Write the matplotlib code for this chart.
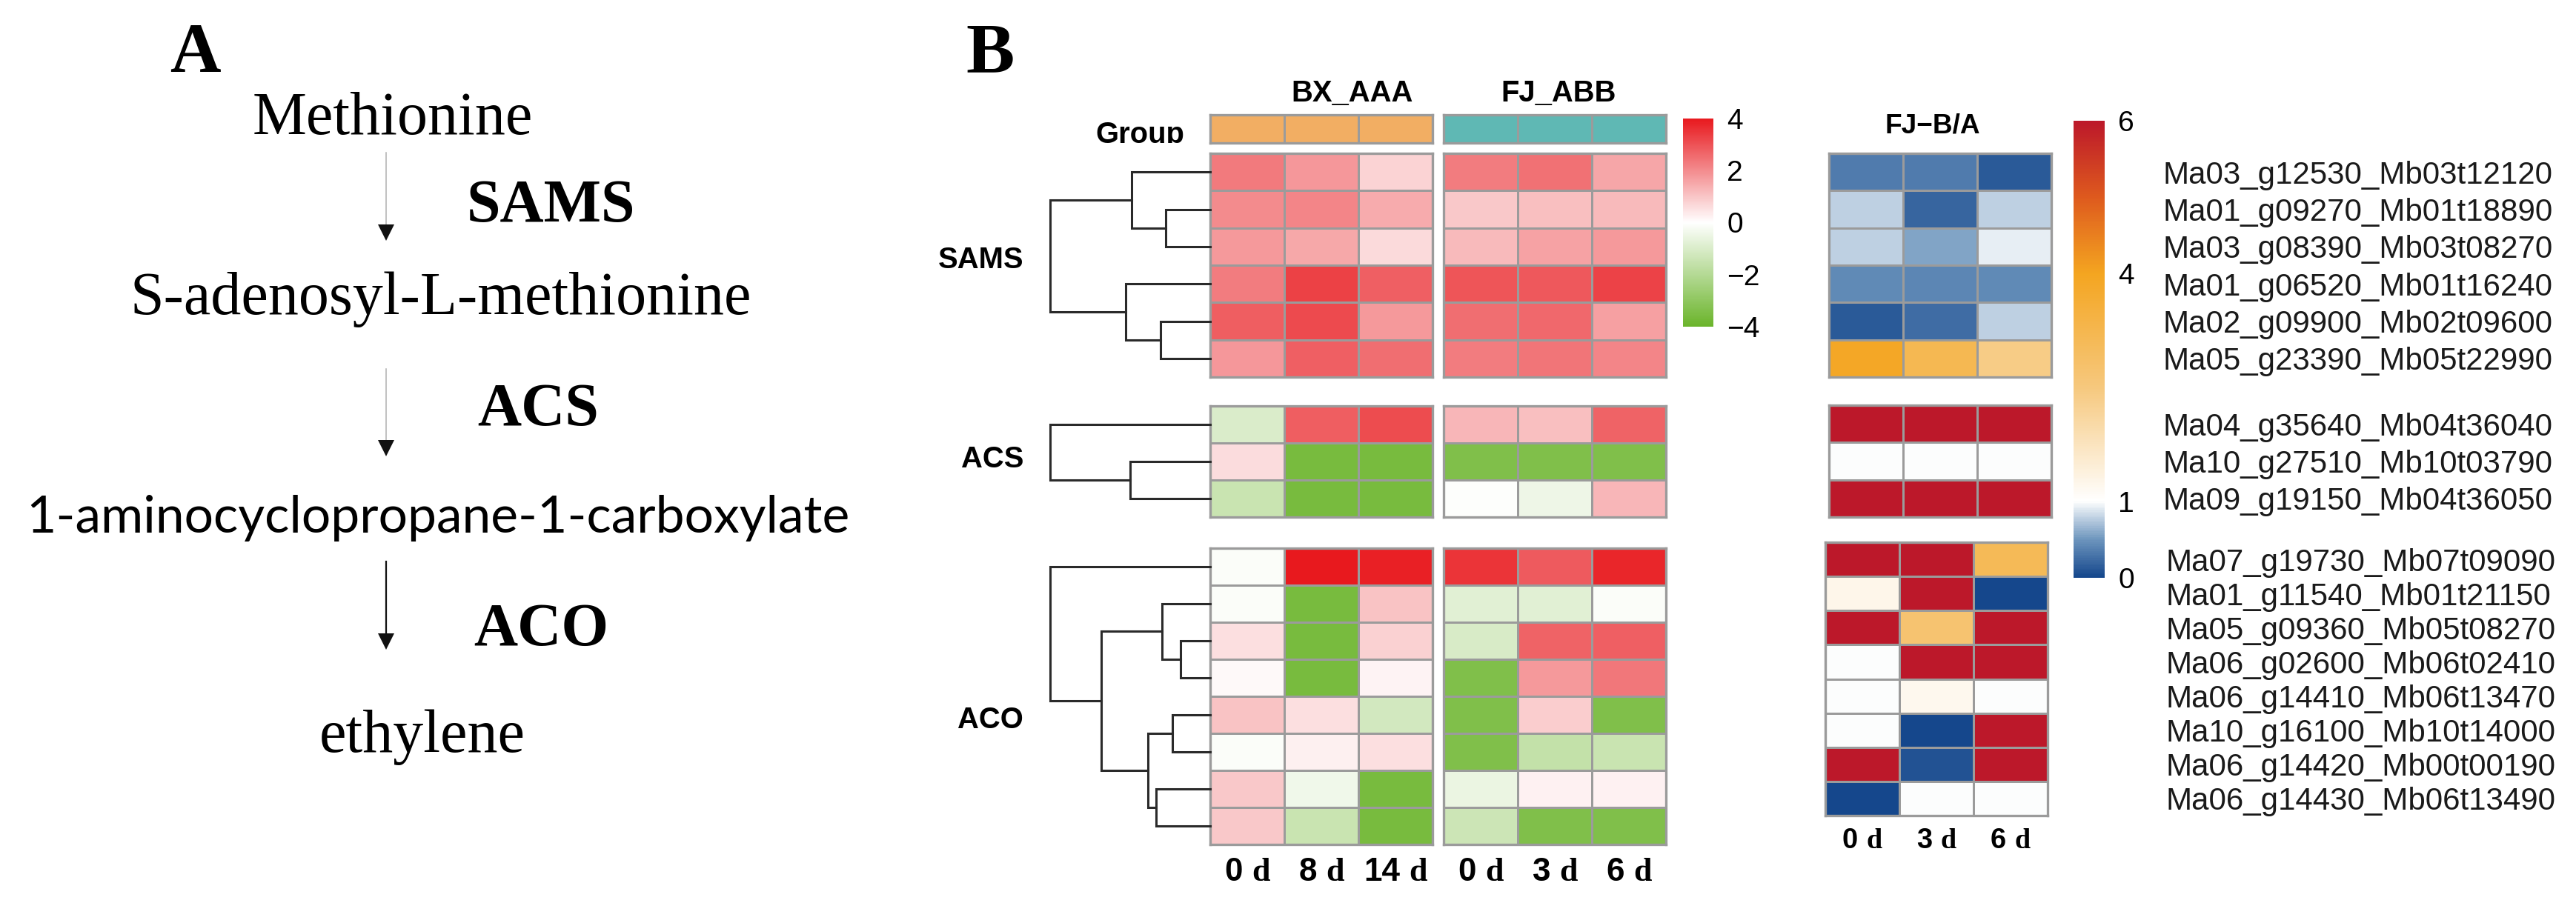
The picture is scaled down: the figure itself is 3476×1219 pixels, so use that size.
import numpy as np
import matplotlib
matplotlib.use("Agg")
import matplotlib.pyplot as plt
from matplotlib.colors import LinearSegmentedColormap, ListedColormap, Normalize
from matplotlib.cm import ScalarMappable
from matplotlib.offsetbox import TextArea, HPacker, AnnotationBbox

W, H = 3476, 1219

# ---------------- data ----------------
days_bx = ["0", "8", "14"]
days_fj = ["0", "3", "6"]
days_ratio = ["0", "3", "6"]
group_names = ["SAMS", "ACS", "ACO"]

genes_sams = ["Ma03_g12530_Mb03t12120", "Ma01_g09270_Mb01t18890", "Ma03_g08390_Mb03t08270",
              "Ma01_g06520_Mb01t16240", "Ma02_g09900_Mb02t09600", "Ma05_g23390_Mb05t22990"]
genes_acs = ["Ma04_g35640_Mb04t36040", "Ma10_g27510_Mb10t03790", "Ma09_g19150_Mb04t36050"]
genes_aco = ["Ma07_g19730_Mb07t09090", "Ma01_g11540_Mb01t21150", "Ma05_g09360_Mb05t08270",
             "Ma06_g02600_Mb06t02410", "Ma06_g14410_Mb06t13470", "Ma10_g16100_Mb10t14000",
             "Ma06_g14420_Mb00t00190", "Ma06_g14430_Mb06t13490"]

# scaled expression, columns: BX 0d, 8d, 14d | FJ 0d, 3d, 6d
expr_sams = [[2.3, 1.8, 0.75, 2.25, 2.45, 1.55],
             [2.0, 2.1, 1.45, 0.95, 1.1, 1.2],
             [1.75, 1.5, 0.65, 1.2, 1.6, 1.75],
             [2.25, 3.3, 2.75, 2.95, 2.9, 3.25],
             [2.8, 3.15, 1.75, 2.5, 2.6, 1.65],
             [1.8, 2.75, 2.5, 2.25, 2.4, 2.1]]
expr_acs = [[-1.0, 2.8, 3.1, 1.25, 1.1, 2.7],
            [0.6, -3.6, -3.6, -3.4, -3.4, -3.4],
            [-1.45, -3.6, -3.6, -0.05, -0.45, 1.25]]
expr_aco = [[-0.12, 4.0, 3.85, 3.5, 2.85, 3.75],
            [-0.1, -3.6, 1.05, -0.8, -0.8, -0.1],
            [0.55, -3.6, 0.8, -1.05, 2.7, 2.75],
            [0.1, -3.6, 0.2, -3.4, 1.75, 2.35],
            [1.05, 0.55, -1.2, -3.4, 0.85, -3.4],
            [-0.1, 0.25, 0.55, -3.4, -1.6, -1.45],
            [0.95, -0.4, -3.6, -0.55, 0.22, 0.22],
            [0.95, -1.45, -3.6, -1.35, -3.4, -3.4]]

# FJ B/A ratio, columns: 0d, 3d, 6d
ratio_sams = [[0.33, 0.34, 0.14],
              [0.78, 0.2, 0.78],
              [0.78, 0.57, 0.93],
              [0.44, 0.42, 0.44],
              [0.14, 0.25, 0.78],
              [3.9, 3.2, 2.4]]
ratio_acs = [[6, 6, 6],
             [1, 1, 1],
             [6, 6, 6]]
ratio_aco = [[6, 6, 3.1],
             [1.25, 6, 0.0],
             [6, 2.7, 6],
             [1.0, 6, 6],
             [1.0, 1.2, 1.0],
             [1.0, 0.0, 6],
             [6, 0.08, 6],
             [0.02, 1.0, 1.0]]

# dendrograms: (child a, child b, height); leaves 0..n-1, new nodes n, n+1, ...
tree_sams = [(1, 2, 0.28), (0, 6, 0.49), (4, 5, 0.31), (3, 8, 0.53), (7, 9, 1.0)]
tree_acs = [(1, 2, 0.5), (0, 3, 1.0)]
tree_aco = [(2, 3, 0.185), (1, 8, 0.30), (4, 5, 0.236), (6, 7, 0.338),
            (10, 11, 0.39), (9, 12, 0.68), (0, 13, 1.0)]

# ---------------- style ----------------
plt.rcParams["font.family"] = ["Liberation Sans", "DejaVu Sans"]
GRID = "#9b9b9b"
cmap_expr = LinearSegmentedColormap.from_list("gwr", ["#6AB42A", "#FFFFFF", "#E8191E"])
norm_expr = Normalize(-4, 4)
cmap_ratio = LinearSegmentedColormap.from_list(
    "ratio", [(0, "#15478C"), (0.5 / 6, "#6E96BE"), (1 / 6, "#FFFFFF"), (2.5 / 6, "#F6C87D"),
              (4 / 6, "#F4A520"), (5 / 6, "#DE5A1E"), (1, "#BC182A")])
norm_ratio = Normalize(0, 6)
group_cmap = ListedColormap(["#F2AE63", "#5FB8B4"])


def rect(x0, y0, x1, y1):
    return [x0 / W, 1 - y1 / H, (x1 - x0) / W, (y1 - y0) / H]


def pt(px):
    return px * 0.72


def heat_block(x0, x1, y0, y1, values, cmap, norm):
    ax = fig.add_axes(rect(x0, y0, x1, y1))
    v = np.asarray(values, dtype=float)
    ax.pcolormesh(v, cmap=cmap, norm=norm, edgecolors=GRID, linewidth=2.0)
    ax.set_xlim(0, v.shape[1])
    ax.set_ylim(v.shape[0], 0)
    ax.set_xticks([])
    ax.set_yticks([])
    for s in ax.spines.values():
        s.set_color(GRID)
        s.set_linewidth(2.4)
    return ax


def draw_tree(x0, x1, y0, y1, merges, n):
    ax = fig.add_axes(rect(x0, y0, x1, y1))
    pos = {i: (i + 0.5, 0.0) for i in range(n)}
    for k, (a, b, h) in enumerate(merges):
        ya, ha = pos[a]
        yb, hb = pos[b]
        ax.plot([ha, h, h, hb], [ya, ya, yb, yb], color="#2a2a2a", lw=2.2,
                solid_joinstyle="miter", clip_on=False)
        pos[n + k] = ((ya + yb) / 2, h)
    ax.set_xlim(1.0, 0)
    ax.set_ylim(n, 0)
    ax.axis("off")


def day_labels(ax, days, size_px, gap_px, sep_px):
    for i, d in enumerate(days):
        num = TextArea(d, textprops=dict(family="Liberation Sans", weight="bold", fontsize=pt(size_px)))
        unit = TextArea("d", textprops=dict(family="Liberation Serif", weight="bold", fontsize=pt(size_px)))
        pack = HPacker(children=[num, unit], align="baseline", pad=0, sep=pt(sep_px))
        ab = AnnotationBbox(pack, (i + 0.5, 0), xycoords=ax.get_xaxis_transform(),
                            xybox=(0, -pt(gap_px)), boxcoords="offset points",
                            box_alignment=(0.5, 1.0), frameon=False, pad=0)
        ax.add_artist(ab)


fig = plt.figure(figsize=(W / 100, H / 100), dpi=100)

# canvas for free text (pixel coordinates)
cv = fig.add_axes([0, 0, 1, 1])
cv.set_xlim(0, W)
cv.set_ylim(H, 0)
cv.axis("off")

# ---------------- panel A ----------------
serif = "Liberation Serif"
cv.text(229, 97, "A", family=serif, weight="bold", fontsize=pt(95))
cv.text(530, 181, "Methionine", family=serif, fontsize=pt(82), ha="center")
cv.text(595, 424, "S-adenosyl-L-methionine", family=serif, fontsize=pt(82), ha="center")
acc = cv.text(591, 719, "1-aminocyclopropane-1-carboxylate", family="Lato", fontsize=pt(66), ha="center")
cv.text(570, 1015, "ethylene", family=serif, fontsize=pt(82), ha="center")
cv.text(630, 299, "SAMS", family=serif, weight="bold", fontsize=pt(82))
cv.text(644, 574, "ACS", family=serif, weight="bold", fontsize=pt(82))
cv.text(639, 871, "ACO", family=serif, weight="bold", fontsize=pt(82))
for (ya, yb, col, lw) in [(206, 323, "#b0b0b0", 1.1), (498, 614, "#b0b0b0", 1.1), (758, 875, "#111111", 1.6)]:
    cv.plot([521, 521], [ya, yb - 14], color=col, lw=lw)
    cv.plot([521], [yb - 9], marker="v", ms=pt(22), color="#111111", mew=0)

# ---------------- panel B ----------------
cv.text(1303, 98, "B", family=serif, weight="bold", fontsize=pt(98))
cv.text(1825, 137, "BX_AAA", weight="bold", fontsize=pt(40), ha="center")
cv.text(2103, 137, "FJ_ABB", weight="bold", fontsize=pt(40), ha="center")
cv.text(2608, 180, "FJ\u2212B/A", weight="bold", fontsize=pt(37), ha="center")

# group annotation bar
bx_x, fj_x = (1633, 1933), (1948, 2248)
heat_block(*bx_x, 155, 193, [[0, 0, 0]], group_cmap, Normalize(0, 1))
heat_block(*fj_x, 155, 193, [[1, 1, 1]], group_cmap, Normalize(0, 1))
gax = fig.add_axes(rect(1420, 140, 1625, 193))
gax.axis("off")
gax.set_xlim(1420, 1625)
gax.set_ylim(193, 140)
gax.text(1598, 193, "Group", weight="bold", fontsize=pt(40), ha="right", va="baseline", clip_on=True)

rows_left = {"SAMS": (207, 509), "ACS": (548, 698), "ACO": (740, 1140)}
rows_right = {"SAMS": (2468, 2768, 207, 509), "ACS": (2468, 2768, 547, 698), "ACO": (2463, 2763, 732, 1101)}
label_y = {"SAMS": 362, "ACS": 631, "ACO": 983}
data_expr = {"SAMS": expr_sams, "ACS": expr_acs, "ACO": expr_aco}
data_ratio = {"SAMS": ratio_sams, "ACS": ratio_acs, "ACO": ratio_aco}
trees = {"SAMS": tree_sams, "ACS": tree_acs, "ACO": tree_aco}
genes = {"SAMS": genes_sams, "ACS": genes_acs, "ACO": genes_aco}
label_pad = {"SAMS": 150, "ACS": 150, "ACO": 160}

for g in group_names:
    y0, y1 = rows_left[g]
    vals = np.asarray(data_expr[g])
    ax_bx = heat_block(*bx_x, y0, y1, vals[:, :3], cmap_expr, norm_expr)
    ax_fj = heat_block(*fj_x, y0, y1, vals[:, 3:], cmap_expr, norm_expr)
    draw_tree(1417, 1633, y0, y1, trees[g], len(vals))
    cv.text(1381, label_y[g], g, weight="bold", fontsize=pt(40), ha="right")

    rx0, rx1, ry0, ry1 = rows_right[g]
    ax_r = heat_block(rx0, rx1, ry0, ry1, data_ratio[g], cmap_ratio, norm_ratio)
    ax_r.yaxis.tick_right()
    ax_r.set_yticks(np.arange(len(genes[g])) + 0.5)
    ax_r.set_yticklabels(genes[g], fontsize=pt(42), color="#1a1a1a")
    ax_r.tick_params(axis="y", length=0, pad=pt(label_pad[g]))

    if g == "ACO":
        day_labels(ax_bx, days_bx, 44, 17, 12)
        day_labels(ax_fj, days_fj, 44, 17, 12)
        day_labels(ax_r, days_ratio, 38, 16, 12)

# colour keys
cax1 = fig.add_axes(rect(2271, 160, 2312, 441))
cb1 = fig.colorbar(ScalarMappable(norm=norm_expr, cmap=cmap_expr), cax=cax1, ticks=[-4, -2, 0, 2, 4])
cax2 = fig.add_axes(rect(2798, 163, 2840, 780))
cb2 = fig.colorbar(ScalarMappable(norm=norm_ratio, cmap=cmap_ratio), cax=cax2, ticks=[0, 1, 4, 6])
for cb in (cb1, cb2):
    cb.outline.set_visible(False)
    cb.ax.tick_params(length=0, labelsize=pt(39), pad=pt(18))

# fit the sans-serif compound name to its width in the figure
fig.canvas.draw()
bb = acc.get_window_extent(fig.canvas.get_renderer())
acc.set_fontsize(acc.get_fontsize() * 1112 / bb.width)

fig.savefig("out.png", dpi=100)
